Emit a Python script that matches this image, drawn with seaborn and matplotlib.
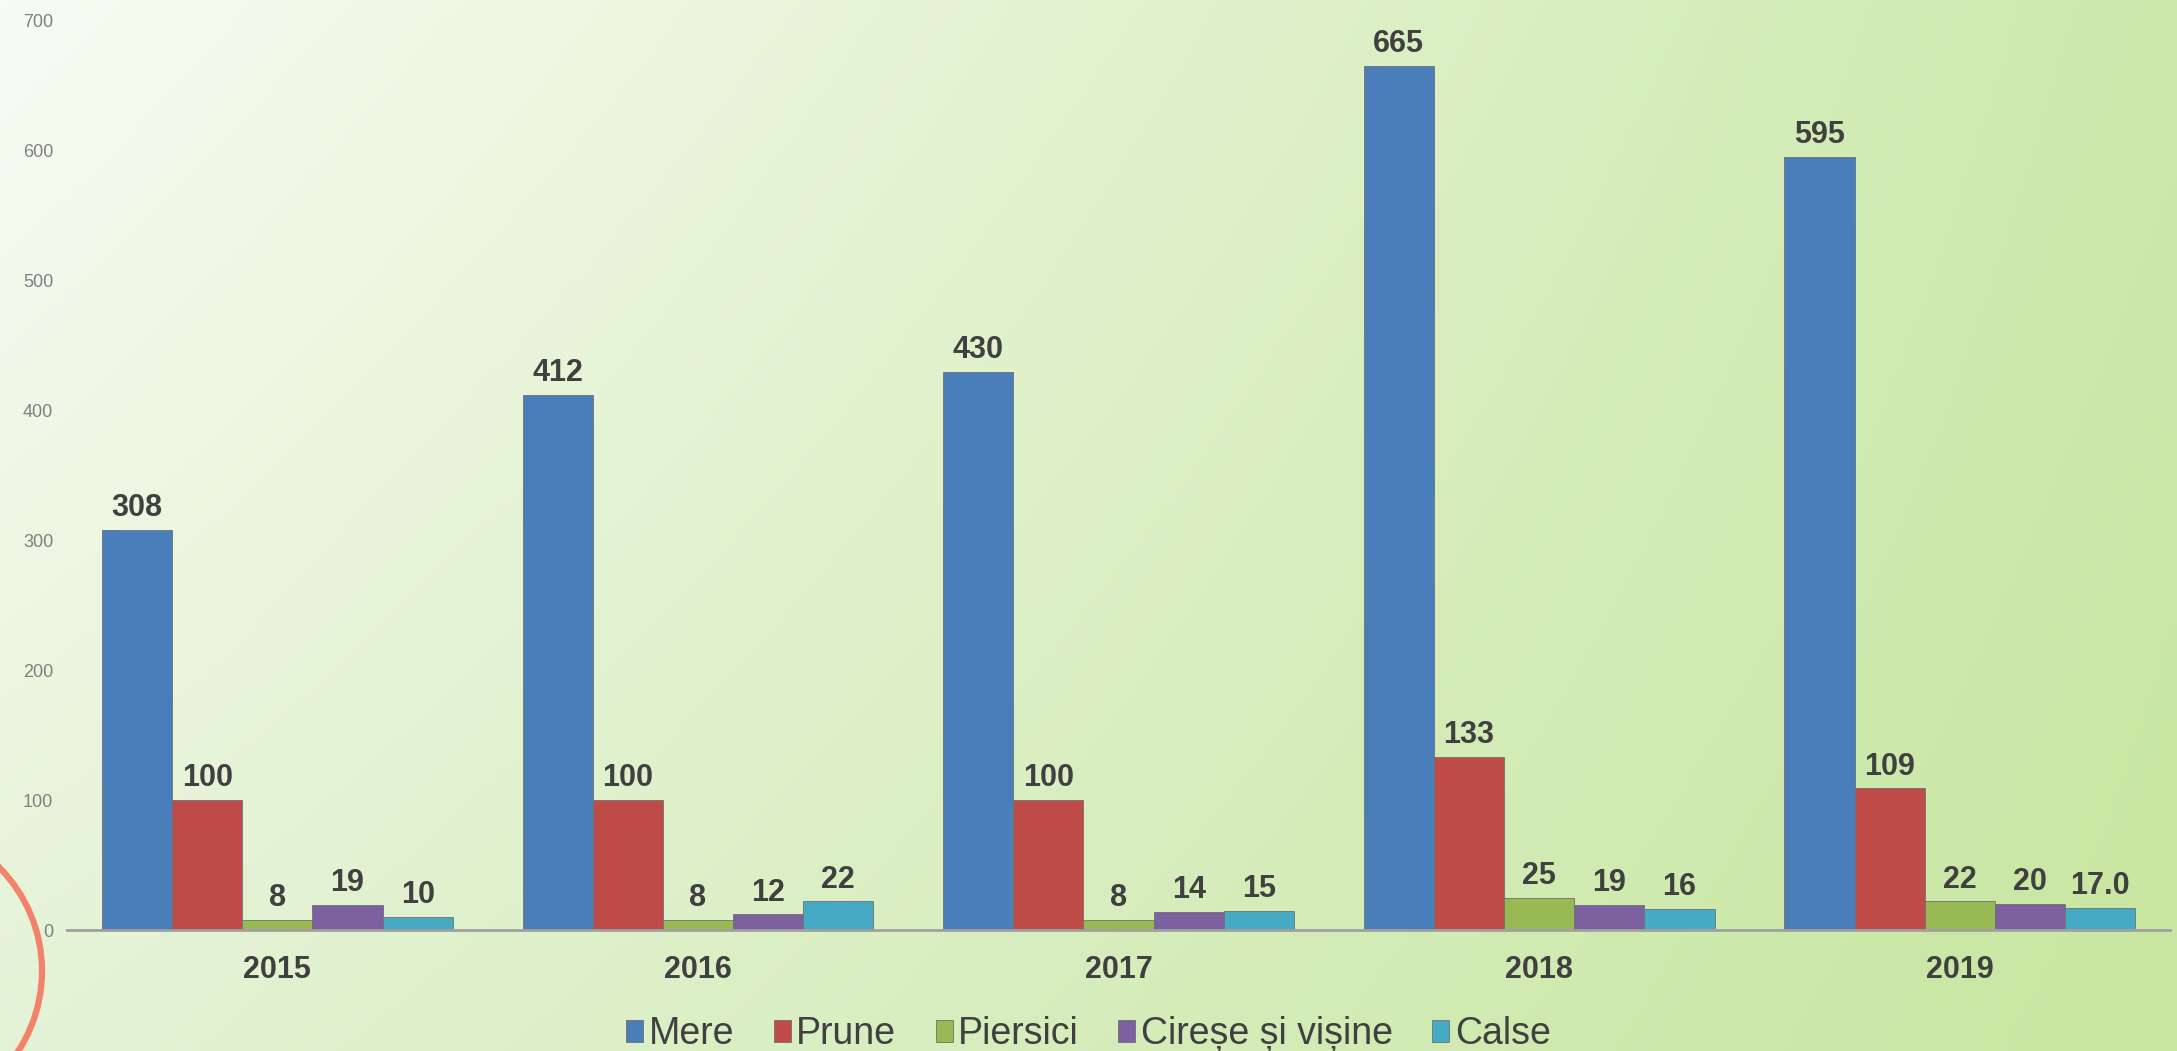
import numpy as np
import pandas as pd
import matplotlib
matplotlib.use('Agg')
import matplotlib.pyplot as plt
import matplotlib.patches as mpatches
import seaborn as sns

# date
ani = ['2015', '2016', '2017', '2018', '2019']
mere = [308, 412, 430, 665, 595]
prune = [100, 100, 100, 133, 109]
piersici = [8, 8, 8, 25, 22]
cirese = [19, 12, 14, 19, 20]
calse = [10, 22, 15, 16, 17.0]
calse_txt = ['10', '22', '15', '16', '17.0']

serii = ['Mere', 'Prune', 'Piersici', 'Cireșe și vișine', 'Calse']
culori = ['#4a7ebb', '#be4b48', '#98b954', '#7d60a0', '#46aac5']
yticks = [0, 100, 200, 300, 400, 500, 600, 700]

rows = []
for s, vals in zip(serii, [mere, prune, piersici, cirese, calse]):
    for a, v in zip(ani, vals):
        rows.append({'an': a, 'fruct': s, 'valoare': v})
df = pd.DataFrame(rows)

sns.set_style('white')
plt.rcParams['font.family'] = ['Liberation Sans', 'DejaVu Sans']

fig = plt.figure(figsize=(21.77, 10.51), dpi=100)

# fundal in degrade
bg = fig.add_axes([0, 0, 1, 1], zorder=-10)
tl = np.array([248, 252, 244]) / 255
tr = np.array([205, 233, 172]) / 255
bl = np.array([228, 243, 214]) / 255
br = np.array([200, 230, 160]) / 255
u = np.linspace(0, 1, 400)[None, :, None]
v = np.linspace(0, 1, 200)[:, None, None]
img = (1 - v) * ((1 - u) * tl + u * tr) + v * ((1 - u) * bl + u * br)
bg.imshow(img, aspect='auto', extent=[0, 1, 0, 1], origin='upper')
bg.axis('off')

ax = fig.add_axes([0.0308, 0.1151, 0.966, 0.865])
ax.patch.set_alpha(0)

sns.barplot(data=df, x='an', y='valoare', hue='fruct', palette=culori,
            width=0.834, ax=ax, edgecolor='#707070', linewidth=0.6,
            saturation=1)

for i, cont in enumerate(ax.containers):
    if serii[i] == 'Calse':
        lab = calse_txt
    else:
        lab = [f'{v:g}' for v in cont.datavalues]
    ax.bar_label(cont, labels=lab, padding=5, fontsize=22, fontweight='bold',
                 color='#404040')

ax.set_ylim(0, 700)
ax.set_xlim(-0.5, 4.5)
ax.set_yticks(yticks)
ax.set_xlabel('')
ax.set_ylabel('')
for sp in ['top', 'right', 'left']:
    ax.spines[sp].set_visible(False)
ax.spines['bottom'].set_color('#a0a0a0')
ax.spines['bottom'].set_linewidth(2)
ax.tick_params(axis='y', length=0, pad=10, labelsize=13, labelcolor='#808080')
ax.tick_params(axis='x', length=0, pad=18, labelsize=22, labelcolor='#404040')
for t in ax.get_xticklabels():
    t.set_fontweight('bold')

h, l = ax.get_legend_handles_labels()
ax.legend_.remove()
fig.legend(h, l, loc='center', bbox_to_anchor=(0.5, 0.016), ncol=5,
           frameon=False, fontsize=27, handlelength=0.45, handleheight=0.5,
           handletextpad=0.15, columnspacing=1.05, labelcolor='#404040')

circ = mpatches.Circle((-1.05, 0.80), 1.47, transform=fig.dpi_scale_trans,
                       fill=False, edgecolor='#f2836a', linewidth=4.5,
                       clip_on=False)
fig.patches.append(circ)

fig.savefig('out.png', dpi=100)
